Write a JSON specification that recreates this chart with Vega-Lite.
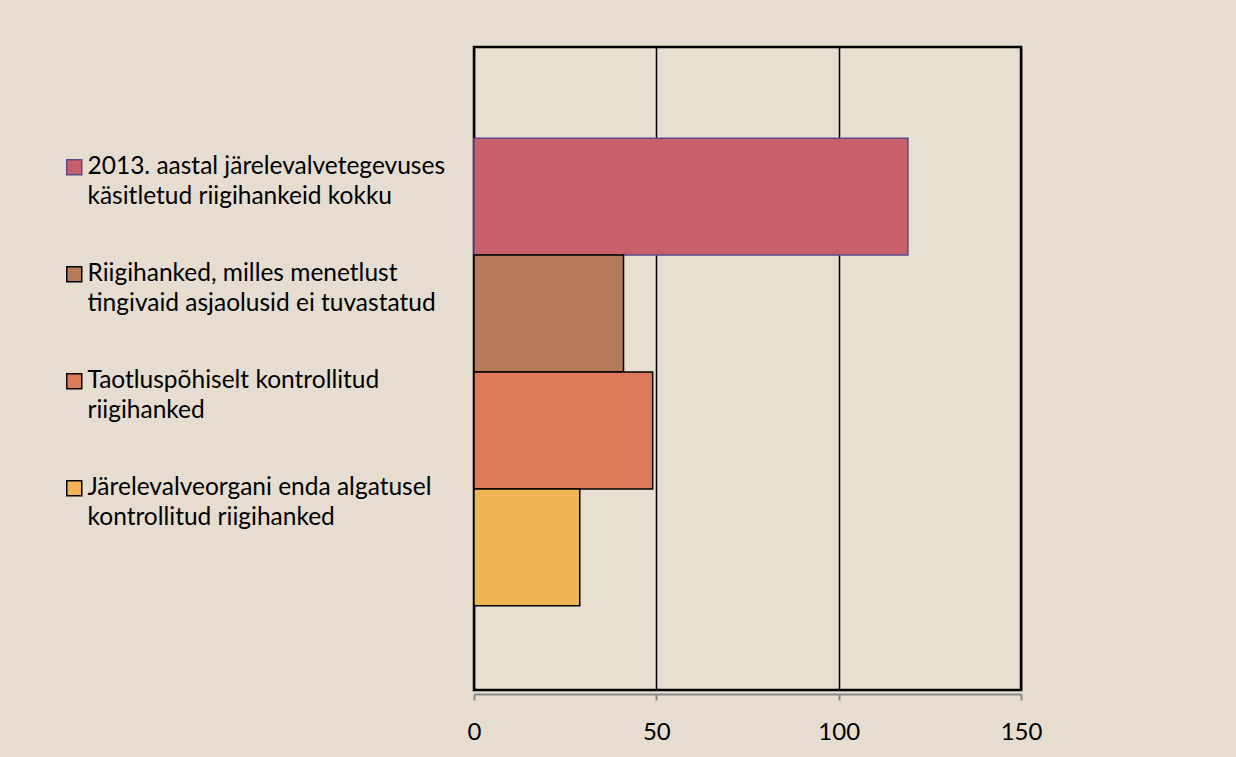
{
  "$schema": "https://vega.github.io/schema/vega-lite/v6.json",
  "width": 547,
  "height": 643,
  "autosize": {"type": "none"},
  "padding": {"left": 474, "top": 47, "right": 215, "bottom": 67},
  "background": "#e6ddd0",
  "config": {
    "view": {"fill": "#e7dfcf", "stroke": "#000000", "strokeWidth": 2.5},
    "font": "Lato",
    "style": {"guide-label": {"lineHeight": 30}}
  },
  "data": {
    "values": [
      {"cat": "2013. aastal järelevalvetegevuses\nkäsitletud riigihankeid kokku", "value": 119},
      {"cat": "Riigihanked, milles menetlust\ntingivaid asjaolusid ei tuvastatud", "value": 41},
      {"cat": "Taotluspõhiselt kontrollitud\nriigihanked", "value": 49},
      {"cat": "Järelevalveorgani enda algatusel\nkontrollitud riigihanked", "value": 29}
    ]
  },
  "mark": {"type": "bar", "strokeWidth": 1.5, "opacity": 1},
  "encoding": {
    "y": {
      "field": "cat",
      "type": "nominal",
      "sort": null,
      "scale": {"paddingInner": 0, "paddingOuter": 0.75, "align": 0.52},
      "axis": null
    },
    "x": {
      "field": "value",
      "type": "quantitative",
      "scale": {"domain": [0, 150], "nice": false},
      "axis": {
        "values": [0, 50, 100, 150],
        "title": null,
        "grid": true,
        "gridColor": "#000000",
        "gridWidth": 1.5,
        "gridOpacity": 1,
        "domainColor": "#8a8a8a",
        "domainWidth": 2,
        "tickColor": "#8a8a8a",
        "tickSize": 6,
        "tickWidth": 2,
        "offset": 4,
        "labelFontSize": 24,
        "labelColor": "#000000",
        "labelFont": "Lato",
        "labelPadding": 20,
        "labelFlush": false
      }
    },
    "color": {
      "field": "cat",
      "type": "nominal",
      "sort": null,
      "scale": {"range": ["#c8606a", "#b57a57", "#dd7a5c", "#f1b454"]},
      "legend": {
        "title": null,
        "orient": "none",
        "legendX": -412,
        "legendY": 108,
        "padding": 0,
        "symbolType": "square",
        "symbolSize": 225,
        "symbolStrokeWidth": 1.5,
        "labelFontSize": 24.5,
        "labelFont": "Lato",
        "labelColor": "#000000",
        "labelExpr": "split(datum.label, '\\n')",
        "labelLimit": 600,
        "labelOffset": 1,
        "labelBaseline": "middle",
        "rowPadding": 52
      }
    },
    "stroke": {
      "field": "cat",
      "type": "nominal",
      "sort": null,
      "scale": {"range": ["#5b4b8c", "#000000", "#000000", "#000000"]},
      "legend": {
        "title": null,
        "orient": "none",
        "legendX": -412,
        "legendY": 108,
        "padding": 0,
        "symbolType": "square",
        "symbolSize": 225,
        "symbolStrokeWidth": 1.5,
        "labelFontSize": 24.5,
        "labelFont": "Lato",
        "labelColor": "#000000",
        "labelExpr": "split(datum.label, '\\n')",
        "labelLimit": 600,
        "labelOffset": 1,
        "labelBaseline": "middle",
        "rowPadding": 52
      }
    }
  }
}
